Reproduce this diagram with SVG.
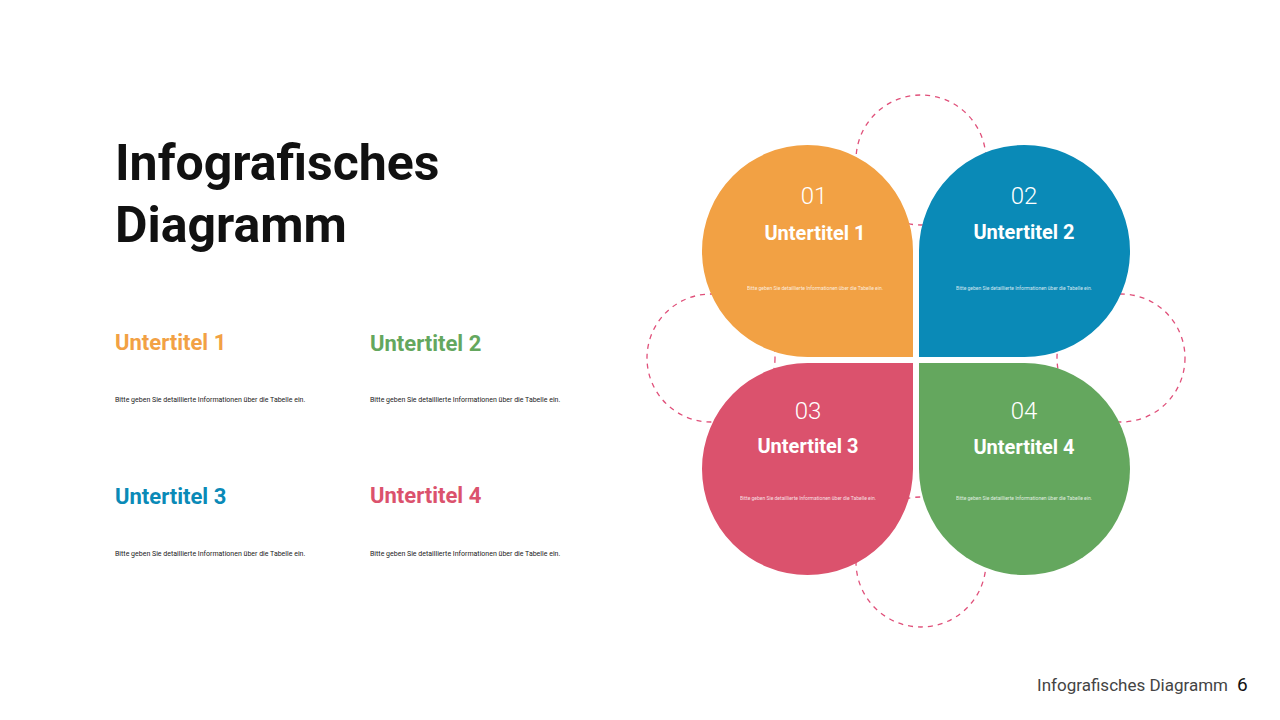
<svg xmlns="http://www.w3.org/2000/svg" width="1280" height="720" viewBox="0 0 1280 720">
<style>
.t{font-family:Roboto,"Liberation Sans",sans-serif}
.h{font-weight:bold;font-size:22px}
.d{font-size:7px;fill:#222}
.num{font-size:24px;font-weight:300;fill:#fff;text-anchor:middle}
.pt{font-size:20px;font-weight:bold;fill:#fff;text-anchor:middle}
.ps{font-size:5px;fill:#fff;text-anchor:middle;opacity:.8}
.dash{fill:none;stroke:#e0507a;stroke-width:1.3;stroke-dasharray:5 5}
</style>
<rect width="1280" height="720" fill="#fff"/>
<text class="t" x="115" y="180" font-size="50" font-weight="bold" fill="#111">Infografisches</text>
<text class="t" x="115" y="242" font-size="50" font-weight="bold" fill="#111">Diagramm</text>
<text class="t h" x="115" y="350" fill="#f2a144">Untertitel 1</text>
<text class="t d" x="115" y="402">Bitte geben Sie detaillierte Informationen über die Tabelle ein.</text>
<text class="t h" x="370" y="351" fill="#64a75e">Untertitel 2</text>
<text class="t d" x="370" y="402">Bitte geben Sie detaillierte Informationen über die Tabelle ein.</text>
<text class="t h" x="115" y="504" fill="#0a8ab7">Untertitel 3</text>
<text class="t d" x="115" y="556">Bitte geben Sie detaillierte Informationen über die Tabelle ein.</text>
<text class="t h" x="370" y="503" fill="#db526d">Untertitel 4</text>
<text class="t d" x="370" y="556">Bitte geben Sie detaillierte Informationen über die Tabelle ein.</text>
<g id="rings">
<circle class="dash" cx="921" cy="160" r="65"/>
<circle class="dash" cx="711" cy="358" r="64"/>
<circle class="dash" cx="1121" cy="358" r="64"/>
<circle class="dash" cx="921" cy="562" r="65"/>
</g>
<g id="p1"><path d="M913,357 H807.5 A105.5,106 0 1 1 913,251 Z" fill="#f2a144"/>
<text class="t num" x="814" y="204">01</text><text class="t pt" x="815" y="240">Untertitel 1</text>
<text class="t ps" x="815" y="290">Bitte geben Sie detaillierte Informationen über die Tabelle ein.</text></g>
<g id="p2"><path d="M919,357 H1024.5 A105.5,106 0 1 0 919,251 Z" fill="#0a8ab7"/>
<text class="t num" x="1024" y="204">02</text><text class="t pt" x="1024" y="239">Untertitel 2</text>
<text class="t ps" x="1024" y="290">Bitte geben Sie detaillierte Informationen über die Tabelle ein.</text></g>
<g id="p3"><path d="M913,363 H807.5 A105.5,106 0 1 0 913,469 Z" fill="#db526d"/>
<text class="t num" x="808" y="419">03</text><text class="t pt" x="808" y="453">Untertitel 3</text>
<text class="t ps" x="808" y="500">Bitte geben Sie detaillierte Informationen über die Tabelle ein.</text></g>
<g id="p4"><path d="M919,363 H1024.5 A105.5,106 0 1 1 919,469 Z" fill="#64a75e"/>
<text class="t num" x="1024" y="419">04</text><text class="t pt" x="1024" y="454">Untertitel 4</text>
<text class="t ps" x="1024" y="500">Bitte geben Sie detaillierte Informationen über die Tabelle ein.</text></g>
<text class="t" x="1228" y="691" font-size="17" fill="#444" text-anchor="end">Infografisches Diagramm</text>
<text class="t" x="1237" y="691" font-size="19" fill="#111">6</text>
</svg>
